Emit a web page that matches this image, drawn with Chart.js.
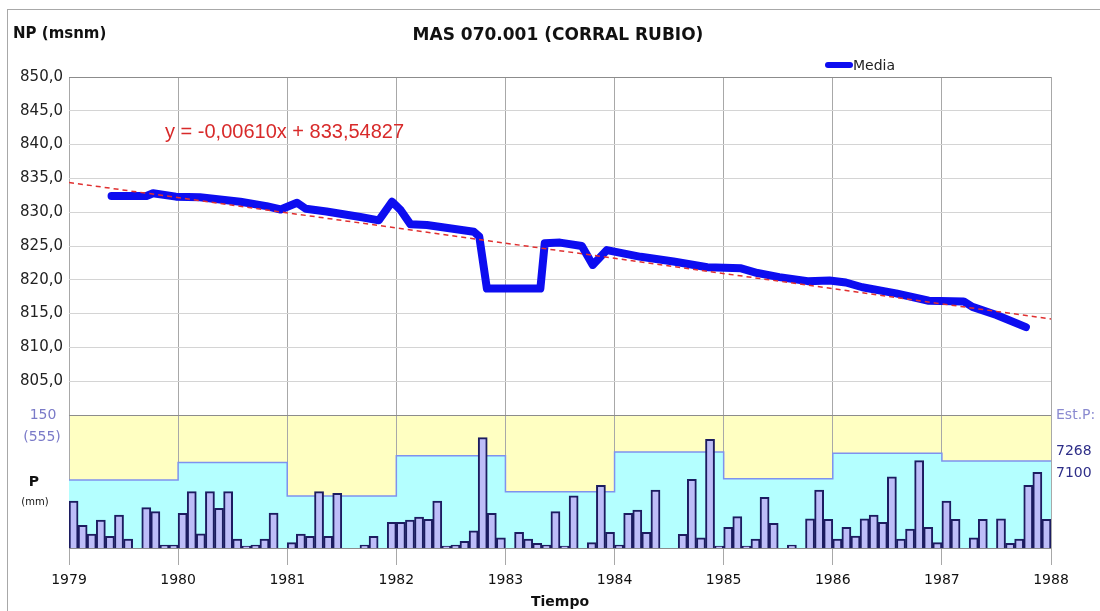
<!DOCTYPE html>
<html>
<head>
<meta charset="utf-8">
<script src="https://cdn.jsdelivr.net/npm/chart.js@4/dist/chart.umd.min.js"></script>
<style>
  html, body { margin: 0; padding: 0; background: #fff; }
  #wrap { width: 1100px; height: 611px; }
</style>
</head>
<body>
<div id="wrap"><canvas id="chart" width="1100" height="611"></canvas></div>
<script>
// piezometric level (Media), decimal years / m a.s.l.
const levelDates = [1979.39, 1979.71, 1979.77, 1979.98, 1980.20, 1980.57, 1980.81, 1980.94, 1981.09, 1981.17,
  1981.36, 1981.67, 1981.84, 1981.96, 1982.04, 1982.13, 1982.28, 1982.71, 1982.76, 1982.83,
  1983.32, 1983.36, 1983.50, 1983.70, 1983.80, 1983.93, 1984.24, 1984.54, 1984.85, 1985.16,
  1985.31, 1985.51, 1985.77, 1985.97, 1986.12, 1986.27, 1986.58, 1986.88, 1987.20, 1987.28,
  1987.50, 1987.77];
const levelValues = [832.4, 832.4, 832.8, 832.3, 832.2, 831.55, 830.9, 830.4, 831.4, 830.5,
  830.1, 829.3, 828.8, 831.55, 830.3, 828.2, 828.1, 827.1, 826.4, 818.7,
  818.7, 825.4, 825.5, 825.0, 822.2, 824.4, 823.4, 822.7, 821.85, 821.7,
  821.0, 820.4, 819.8, 819.9, 819.6, 818.9, 818.0, 816.9, 816.8, 816.0,
  814.8, 813.0];

// linear trend, end points
const trendDates = [1979, 1988];
const trendValues = [834.4, 814.2];
const trendLabel = 'y = -0,00610x + 833,54827';

// precipitation
const years = [1979, 1980, 1981, 1982, 1983, 1984, 1985, 1986, 1987];
const annualP = [284, 357, 217, 385, 235, 401, 289, 395, 363];
const monthlyP = [
  [53, 25.6, 15.8, 31.6, 13.2, 37.2, 10.2, 0, 45.5, 41, 3.4, 3.4],
  [39.1, 63.5, 16.1, 63.5, 44.8, 63.5, 10.2, 2.3, 3.4, 10.2, 39.5, 0],
  [6, 15.8, 13.2, 63.5, 13.2, 61.7, 0, 0, 3.4, 13.2, 0, 29],
  [29, 31.6, 35, 32.4, 53, 2.3, 3.4, 7.6, 19.5, 124.4, 39.1, 11.6],
  [0, 17.7, 10.2, 5.3, 3.4, 41, 2.3, 58.7, 0, 6, 70.7, 17.7],
  [3.4, 39.1, 42.9, 17.7, 65.4, 0, 0, 15.5, 77.5, 11.6, 122.6, 2.3],
  [23.4, 35.3, 2.3, 10.2, 57.2, 27.9, 0, 3.4, 0, 33, 65.4, 32.4],
  [10.2, 23.4, 13.5, 33, 37.2, 29, 80.4, 10.2, 21.4, 98.5, 23.4, 6],
  [53, 32.4, 0, 11.6, 32.4, 0, 33, 5.3, 10.2, 70.7, 85.4, 32.4]
];
const stations = ['7268', '7100'];

const levelPts = levelDates.map((d, i) => ({x: d, y: levelValues[i]}));
const trendPts = trendDates.map((d, i) => ({x: d, y: trendValues[i]}));
const monthPts = [];
years.forEach((yr, i) => {
  monthlyP[i].forEach((v, m) => monthPts.push({x: yr + (m + 0.5) / 12, y: v}));
});
const annualPts = years.map((yr, i) => ({x: yr, y: annualP[i]}));
annualPts.push({x: years[years.length - 1] + 1, y: annualP[annualP.length - 1]});

Chart.defaults.font.family = 'DejaVu Sans';

const decor = {
  id: 'decor',
  beforeDraw(chart) {
    const {ctx, chartArea: a, scales} = chart;
    ctx.save();
    ctx.fillStyle = '#fff';
    ctx.fillRect(0, 0, chart.width, chart.height);
    ctx.strokeStyle = '#a8a8a8';
    ctx.lineWidth = 1;
    ctx.strokeRect(7.5, 9.5, chart.width, chart.height);
    // yellow background of the rain panel
    ctx.fillStyle = '#ffffc2';
    ctx.fillRect(a.left, scales.yP.top, a.right - a.left, scales.yP.bottom - scales.yP.top);
    ctx.restore();
  },
  afterDatasetsDraw(chart) {
    const {ctx, chartArea: a, scales} = chart;
    ctx.save();
    // panel borders
    ctx.strokeStyle = '#8c8c8c';
    ctx.lineWidth = 1;
    [a.top, scales.yP.top, a.bottom].forEach(y => {
      const yy = Math.round(y) + 0.5;
      ctx.beginPath(); ctx.moveTo(a.left, yy); ctx.lineTo(a.right, yy); ctx.stroke();
    });

    ctx.textBaseline = 'middle';
    // titles
    ctx.fillStyle = '#111';
    ctx.font = 'bold 17px "DejaVu Sans"';
    ctx.textAlign = 'center';
    ctx.fillText('MAS 070.001 (CORRAL RUBIO)', 558, 36);
    ctx.font = 'bold 15px "DejaVu Sans"';
    ctx.textAlign = 'left';
    ctx.fillText('NP (msnm)', 13, 34);

    // legend
    ctx.strokeStyle = '#0d0df0';
    ctx.lineWidth = 6;
    ctx.lineCap = 'round';
    ctx.beginPath(); ctx.moveTo(828, 65); ctx.lineTo(850, 65); ctx.stroke();
    ctx.fillStyle = '#222';
    ctx.font = '14px "DejaVu Sans"';
    ctx.fillText('Media', 853, 66);

    // trend equation
    ctx.fillStyle = '#d82a2a';
    ctx.font = '20px "Liberation Sans"';
    ctx.fillText(trendLabel, 165, 132);

    // rain panel labels, left
    const py = scales.yP.top;
    ctx.textAlign = 'center';
    ctx.fillStyle = '#7a7ac8';
    ctx.font = '14px "DejaVu Sans"';
    ctx.fillText('150', 43, py);
    ctx.fillText('(555)', 42, py + 22);
    ctx.fillStyle = '#111';
    ctx.font = 'bold 14px "DejaVu Sans"';
    ctx.fillText('P', 34, py + 67);
    ctx.font = '10px "DejaVu Sans"';
    ctx.fillText('(mm)', 35, py + 87);

    // rain panel labels, right
    ctx.textAlign = 'left';
    ctx.fillStyle = '#8a8ad0';
    ctx.font = '14px "DejaVu Sans"';
    ctx.fillText('Est.P:', 1056, py);
    ctx.fillStyle = '#2e2e88';
    stations.forEach((s, i) => ctx.fillText(s, 1056, py + 36 + i * 22));
    ctx.restore();
  }
};

new Chart(document.getElementById('chart'), {
  type: 'line',
  data: {
    datasets: [
      {
        label: 'Tendencia', data: trendPts, yAxisID: 'y', order: 0,
        borderColor: '#e03030', borderWidth: 1.5, borderDash: [5, 4], pointRadius: 0
      },
      {
        label: 'Media', data: levelPts, yAxisID: 'y', order: 1,
        borderColor: '#0d0df0', borderWidth: 8, pointRadius: 0,
        borderCapStyle: 'round', borderJoinStyle: 'round'
      },
      {
        type: 'bar', label: 'P mensual', data: monthPts, yAxisID: 'yP', order: 2,
        backgroundColor: '#bdbdf8', borderColor: '#1c1c60', borderWidth: 2,
        barPercentage: 1, categoryPercentage: 1
      },
      {
        label: 'P anual', data: annualPts, yAxisID: 'yA', order: 3,
        stepped: 'before', fill: 'origin', backgroundColor: '#b4ffff',
        borderColor: '#7f92ee', borderWidth: 1.5, pointRadius: 0
      }
    ]
  },
  options: {
    responsive: false,
    animation: false,
    layout: {padding: {top: 77, right: 49, left: 0, bottom: 0}},
    plugins: {legend: {display: false}, tooltip: {enabled: false}},
    scales: {
      x: {
        type: 'linear', min: 1979, max: 1988, offset: false,
        ticks: {stepSize: 1, autoSkip: false, maxRotation: 0, padding: 7, color: '#111',
          font: {size: 14}, callback: v => String(v)},
        grid: {color: '#a8a8a8', tickLength: 17, offset: false},
        border: {display: false},
        title: {display: true, text: 'Tiempo', color: '#111', font: {size: 14, weight: 'bold'}, padding: 0},
        afterFit: s => { s.height = 63; }
      },
      y: {
        type: 'linear', position: 'left', stack: 'L', stackWeight: 338, weight: 1,
        min: 800, max: 850,
        ticks: {stepSize: 5, autoSkip: false, padding: 6, color: '#222', font: {size: 15},
          callback: v => v === 800 ? '' : v.toFixed(1).replace('.', ',')},
        grid: {color: '#d4d4d4', drawTicks: false},
        border: {display: false},
        afterFit: s => { s.width = 69; }
      },
      yP: {
        type: 'linear', position: 'left', stack: 'L', stackWeight: 133, weight: 0,
        min: 0, max: 150, display: false
      },
      yR: {
        type: 'linear', position: 'right', stack: 'R', stackWeight: 338, weight: 0,
        min: 800, max: 850, display: false
      },
      yA: {
        type: 'linear', position: 'right', stack: 'R', stackWeight: 133, weight: 1,
        min: 0, max: 555, display: false
      }
    }
  },
  plugins: [decor]
});
</script>
</body>
</html>
